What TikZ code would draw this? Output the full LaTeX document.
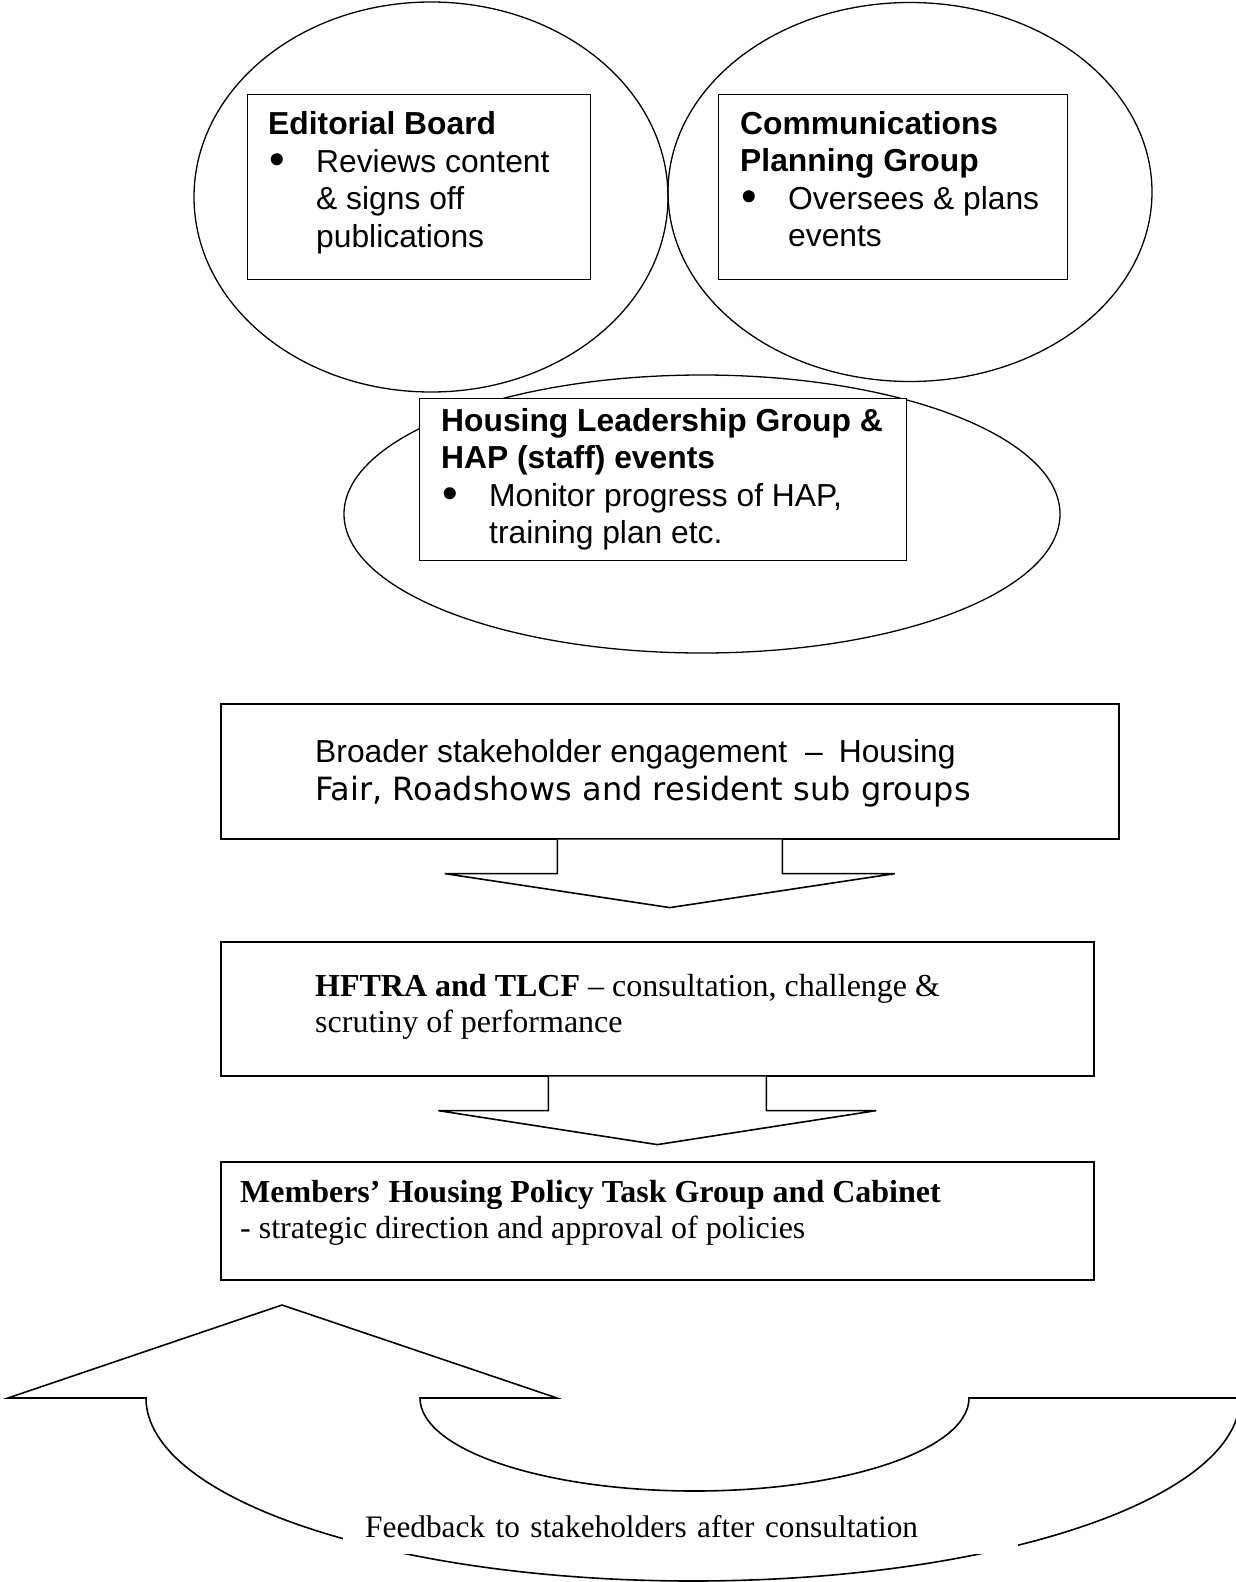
\documentclass[tikz,border=0pt]{standalone}
\usepackage{fontspec}
\setmainfont{Liberation Serif}
\newfontfamily\arialfont{Liberation Sans}
\newfontfamily\verdfont{DejaVu Sans}
\usetikzlibrary{shapes.geometric,calc}
\tikzset{
  ring/.style={draw, ellipse, line width=1.3pt, inner sep=0pt},
  grpbox/.style={draw, line width=1.4pt, fill=white, inner sep=0pt, anchor=north west},
  grptxt/.style={anchor=north west, align=left, inner sep=0pt, font=\arialfont\fontsize{31.8}{37.6}\selectfont},
  flowbox/.style={draw, line width=1.6pt, fill=white, inner sep=0pt, anchor=north west},
  flowtxt/.style={anchor=north west, align=left, inner sep=0pt, font=\fontsize{32}{36.5}\selectfont},
  verdtxt/.style={flowtxt, font=\arialfont\fontsize{31.8}{38}\selectfont},
  blockarr/.style={draw, line width=1.6pt, fill=white, line join=miter},
}
\newcommand{\bitem}{\makebox[48pt][l]{\hspace{1pt}\raisebox{-2.6pt}{\scalebox{1.4}{\textbullet}}}}
\newcommand{\bcont}{\hspace*{48pt}}

\begin{document}
\begin{tikzpicture}[x=1pt, y=-1pt]
\useasboundingbox (0,0) rectangle (1236,1582);

% overlapping groups
\node[ring, minimum width=474, minimum height=390] (edring) at (431,197) {};
\node[ring, minimum width=484, minimum height=379] (cpring) at (910,192) {};
\node[ring, fill=white, minimum width=716, minimum height=278] (hlring) at (702,514) {};

\node[grpbox, minimum width=343, minimum height=185] (edbox) at (247,94) {};
\node[grptxt] (edtxt) at (268,111.2) {\textbf{Editorial Board}\\ \bitem Reviews content\\ \bcont \& signs off\\ \bcont publications};
\node[grpbox, minimum width=349, minimum height=185] (cpbox) at (718,94) {};
\node[grptxt] (cptxt) at (740,110.8) {\textbf{Communications}\\ \textbf{Planning Group}\\ \bitem Oversees \& plans\\ \bcont events};
\node[grpbox, minimum width=487, minimum height=162] (hlbox) at (419,398) {};
\node[grptxt] (hltxt) at (441,407.8) {\textbf{Housing Leadership Group \&}\\ \textbf{HAP (staff) events}\\ \bitem Monitor progress of HAP,\\ \bcont training plan etc.};

% flow
\node[flowbox, minimum width=898, minimum height=135] (brdbox) at (220,703) {};
\node[verdtxt] (brdtxt) at (315,739.4) {Broader stakeholder engagement\hspace{18pt}–\hspace{16pt}Housing\\ {\verdfont\fontsize{32}{38}\selectfont Fair, Roadshows and resident sub groups}};
\draw[blockarr] ($(brdbox.south)+(-112.5,0)$) -- ++(0,34) -- ++(-112.5,0) -- ($(brdbox.south)+(0,68)$)
  -- ($(brdbox.south)+(225,34)$) -- ++(-112.5,0) -- ($(brdbox.south)+(112.5,0)$);

\node[flowbox, minimum width=873, minimum height=134] (hfbox) at (220,941) {};
\node[flowtxt] (hftxt) at (315,974) {\textbf{HFTRA and TLCF} – consultation, challenge \&\\ scrutiny of performance};
\draw[blockarr] ($(hfbox.south)+(-109,0)$) -- ++(0,34) -- ++(-110,0) -- ($(hfbox.south)+(0,68)$)
  -- ($(hfbox.south)+(219,34)$) -- ++(-110,0) -- ($(hfbox.south)+(109,0)$);

\node[flowbox, minimum width=873, minimum height=118] (mhbox) at (220,1161) {};
\node[flowtxt] (mhtxt) at (240,1180) {\textbf{Members’ Housing Policy Task Group and Cabinet}\\ - strategic direction and approval of policies};

% feedback loop
\draw[blockarr, fill=none] (282,1305) -- (557,1398) -- (420,1398)
  .. controls (420,1449.4) and (542.9,1491) .. (694.5,1491)
  .. controls (846.1,1491) and (969,1449.4) .. (969,1398)
  -- (1240,1398)
  .. controls (1240,1499) and (995.1,1581) .. (693,1581)
  .. controls (390.9,1581) and (146,1499) .. (146,1398)
  -- (8,1398) -- cycle;
\node[fill=white, anchor=base west, inner xsep=22pt, inner ysep=0pt, text width=631pt, text height=38pt, text depth=17pt, align=left, font=\fontsize{31.3}{36}\selectfont] (fbtxt) at (343,1537) {Feedback to stakeholders after consultation};
\end{tikzpicture}
\end{document}
